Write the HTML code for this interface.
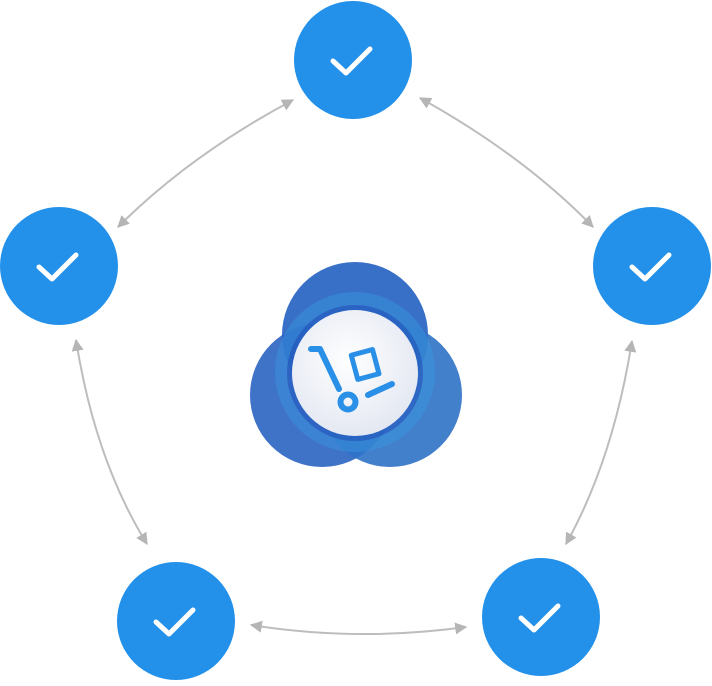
<!DOCTYPE html>
<html><head><style>body{margin:0;background:#fff}</style></head><body>
<svg width="712" height="681" viewBox="0 0 712 681" xmlns="http://www.w3.org/2000/svg">
<defs>
<marker id="a" viewBox="0 0 10 10" refX="9" refY="5" markerWidth="12" markerHeight="12" markerUnits="userSpaceOnUse" orient="auto-start-reverse"><path d="M0,0L10,5L0,10z" fill="#b5b5b5"/></marker>
<radialGradient id="w" cx="0.45" cy="0.4" r="0.6"><stop offset="0" stop-color="#fff"/><stop offset="1" stop-color="#e4e8f2"/></radialGradient>
<g id="chk"><circle r="59" fill="#2391ea"/><path d="M-20,1L-7,13L17,-11" fill="none" stroke="#fff" stroke-width="5" stroke-linecap="round" stroke-linejoin="round"/></g>
</defs>
<g fill="none" stroke="#bdbdbd" stroke-width="2" marker-start="url(#a)" marker-end="url(#a)">
<path d="M293,100Q190,155 118,227"/>
<path d="M420,98Q523,155 593,227"/>
<path d="M76,340Q95,460 147,544"/>
<path d="M632,341Q613,460 566,544"/>
<path d="M251,625Q358,642 466,627"/>
</g>
<use href="#chk" x="353" y="60"/>
<use href="#chk" x="59" y="266"/>
<use href="#chk" x="652" y="266"/>
<use href="#chk" x="176" y="621"/>
<use href="#chk" x="541" y="617"/>
<circle cx="355" cy="335" r="73" fill="#2d67c4" opacity="0.95"/>
<circle cx="322" cy="395" r="72" fill="#2a64c2" opacity="0.9"/>
<circle cx="390" cy="395" r="72" fill="#2f72c6" opacity="0.9"/>
<circle cx="355" cy="372" r="80" fill="#3a9ae0" opacity="0.45"/>
<circle cx="355" cy="373" r="68" fill="#1a3db0" opacity="0.45"/>
<circle cx="355" cy="373" r="63" fill="url(#w)"/>
<g fill="none" stroke="#2a8fe6" stroke-width="6" stroke-linecap="round" stroke-linejoin="round">
<path d="M311,349H320L339,389"/>
<circle cx="348" cy="402" r="7.5"/>
<rect x="354" y="352" width="22" height="25" transform="rotate(-15 365 364)" stroke-width="5"/>
<path d="M368,395L392,384"/>
</g>
</svg>
</body></html>
